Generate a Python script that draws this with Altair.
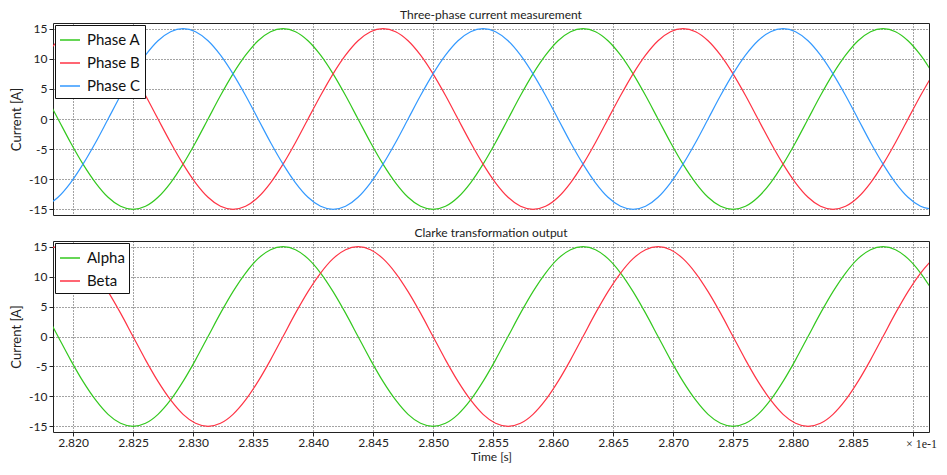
import altair as alt
import pandas as pd

# ---- data (time axis shown in units of 1e-1 s) ----
time_s = [2.81771, 2.81875, 2.81979, 2.82083, 2.82188, 2.82292, 2.82396, 2.82500,
          2.82604, 2.82708, 2.82813, 2.82917, 2.83021, 2.83125, 2.83229, 2.83333,
          2.83438, 2.83542, 2.83646, 2.83750, 2.83854, 2.83958, 2.84063, 2.84167,
          2.84271, 2.84375, 2.84479, 2.84583, 2.84688, 2.84792, 2.84896, 2.85000,
          2.85104, 2.85208, 2.85313, 2.85417, 2.85521, 2.85625, 2.85729, 2.85833,
          2.85938, 2.86042, 2.86146, 2.86250, 2.86354, 2.86458, 2.86563, 2.86667,
          2.86771, 2.86875, 2.86979, 2.87083, 2.87188, 2.87292, 2.87396, 2.87500,
          2.87604, 2.87708, 2.87813, 2.87917, 2.88021, 2.88125, 2.88229, 2.88333,
          2.88438, 2.88542, 2.88646, 2.88750, 2.88854, 2.88958, 2.89063, 2.89167]

phase_a = [3.9, 0.0, -3.9, -7.5, -10.6, -13.0, -14.5,
           -15.0, -14.5, -13.0, -10.6, -7.5, -3.9, 0.0, 3.9, 7.5, 10.6, 13.0, 14.5,
           15.0, 14.5, 13.0, 10.6, 7.5, 3.9, 0.0, -3.9, -7.5, -10.6, -13.0, -14.5,
           -15.0, -14.5, -13.0, -10.6, -7.5, -3.9, 0.0, 3.9, 7.5, 10.6, 13.0, 14.5,
           15.0, 14.5, 13.0, 10.6, 7.5, 3.9, 0.0, -3.9, -7.5, -10.6, -13.0, -14.5,
           -15.0, -14.5, -13.0, -10.6, -7.5, -3.9, 0.0, 3.9, 7.5, 10.6, 13.0, 14.5,
           15.0, 14.5, 13.0, 10.6, 7.5]

phase_b = [10.6, 13.0, 14.5, 15.0, 14.5, 13.0, 10.6, 7.5, 3.9, 0.0, -3.9, -7.5, -10.6, -13.0, -14.5,
           -15.0, -14.5, -13.0, -10.6, -7.5, -3.9, 0.0, 3.9, 7.5, 10.6, 13.0, 14.5,
           15.0, 14.5, 13.0, 10.6, 7.5, 3.9, 0.0, -3.9, -7.5, -10.6, -13.0, -14.5,
           -15.0, -14.5, -13.0, -10.6, -7.5, -3.9, 0.0, 3.9, 7.5, 10.6, 13.0, 14.5,
           15.0, 14.5, 13.0, 10.6, 7.5, 3.9, 0.0, -3.9, -7.5, -10.6, -13.0, -14.5,
           -15.0, -14.5, -13.0, -10.6, -7.5, -3.9, 0.0, 3.9, 7.5]

phase_c = [-14.5, -13.0, -10.6, -7.5, -3.9, 0.0, 3.9, 7.5, 10.6, 13.0, 14.5,
           15.0, 14.5, 13.0, 10.6, 7.5, 3.9, 0.0, -3.9, -7.5, -10.6, -13.0, -14.5,
           -15.0, -14.5, -13.0, -10.6, -7.5, -3.9, 0.0, 3.9, 7.5, 10.6, 13.0, 14.5,
           15.0, 14.5, 13.0, 10.6, 7.5, 3.9, 0.0, -3.9, -7.5, -10.6, -13.0, -14.5,
           -15.0, -14.5, -13.0, -10.6, -7.5, -3.9, 0.0, 3.9, 7.5, 10.6, 13.0, 14.5,
           15.0, 14.5, 13.0, 10.6, 7.5, 3.9, 0.0, -3.9, -7.5, -10.6, -13.0, -14.5,
           -15.0]

alpha = [3.9, 0.0, -3.9, -7.5, -10.6, -13.0, -14.5,
         -15.0, -14.5, -13.0, -10.6, -7.5, -3.9, 0.0, 3.9, 7.5, 10.6, 13.0, 14.5,
         15.0, 14.5, 13.0, 10.6, 7.5, 3.9, 0.0, -3.9, -7.5, -10.6, -13.0, -14.5,
         -15.0, -14.5, -13.0, -10.6, -7.5, -3.9, 0.0, 3.9, 7.5, 10.6, 13.0, 14.5,
         15.0, 14.5, 13.0, 10.6, 7.5, 3.9, 0.0, -3.9, -7.5, -10.6, -13.0, -14.5,
         -15.0, -14.5, -13.0, -10.6, -7.5, -3.9, 0.0, 3.9, 7.5, 10.6, 13.0, 14.5,
         15.0, 14.5, 13.0, 10.6, 7.5]

beta = [14.5, 15.0, 14.5, 13.0, 10.6, 7.5, 3.9, 0.0, -3.9, -7.5, -10.6, -13.0, -14.5,
        -15.0, -14.5, -13.0, -10.6, -7.5, -3.9, 0.0, 3.9, 7.5, 10.6, 13.0, 14.5,
        15.0, 14.5, 13.0, 10.6, 7.5, 3.9, 0.0, -3.9, -7.5, -10.6, -13.0, -14.5,
        -15.0, -14.5, -13.0, -10.6, -7.5, -3.9, 0.0, 3.9, 7.5, 10.6, 13.0, 14.5,
        15.0, 14.5, 13.0, 10.6, 7.5, 3.9, 0.0, -3.9, -7.5, -10.6, -13.0, -14.5,
        -15.0, -14.5, -13.0, -10.6, -7.5, -3.9, 0.0, 3.9, 7.5, 10.6, 13.0]

top_names = ["Phase A", "Phase B", "Phase C"]
bottom_names = ["Alpha", "Beta"]
x_ticks = [2.820, 2.825, 2.830, 2.835, 2.840, 2.845, 2.850, 2.855,
           2.860, 2.865, 2.870, 2.875, 2.880, 2.885, 2.890]
y_ticks = [-15, -10, -5, 0, 5, 10, 15]
x_domain = [2.81833, 2.89133]
y_domain = [-15.95, 15.95]
top_title = "Three-phase current measurement"
bottom_title = "Clarke transformation output"
x_title = "Time [s]"
y_title = "Current [A]"
exponent_label = "× 1e-1"

GREEN, RED, BLUE = "#33c81e", "#ff3344", "#3399ff"

# ---- tables ----
n = len(time_s)
top_df = pd.DataFrame({
    "t": time_s * 3,
    "v": phase_a + phase_b + phase_c,
    "s": [top_names[0]] * n + [top_names[1]] * n + [top_names[2]] * n,
})
bot_df = pd.DataFrame({
    "t": time_s * 2,
    "v": alpha + beta,
    "s": [bottom_names[0]] * n + [bottom_names[1]] * n,
})

W = 876
H_TOP, H_BOT = 192, 191

x_scale = alt.Scale(domain=x_domain, nice=False, zero=False)
y_scale = alt.Scale(domain=y_domain, nice=False, zero=False)


def y_axis():
    return alt.Axis(values=y_ticks, title=y_title, labelExpr="datum.value + ''",
                    tickSize=4, labelPadding=2, titlePadding=5, grid=True)


def legend():
    return alt.Legend(title=None, orient="top-left", offset=2)


def ttl(text):
    return alt.TitleParams(text, fontSize=12, font="Lato", fontWeight="normal",
                           anchor="middle", offset=1, color="#222")


top = alt.Chart(top_df).mark_line(strokeWidth=1.2, interpolate="monotone", clip=True).encode(
    x=alt.X("t:Q", scale=x_scale,
            axis=alt.Axis(values=x_ticks, labels=False, ticks=False, title=None, grid=True)),
    y=alt.Y("v:Q", scale=y_scale, axis=y_axis()),
    color=alt.Color("s:N", scale=alt.Scale(domain=top_names, range=[GREEN, RED, BLUE]),
                    legend=legend(), sort=top_names),
).properties(width=W, height=H_TOP, title=ttl(top_title))

bot_lines = alt.Chart(bot_df).mark_line(strokeWidth=1.2, interpolate="monotone", clip=True).encode(
    x=alt.X("t:Q", scale=x_scale,
            axis=alt.Axis(values=x_ticks, title=x_title, tickSize=4, labelPadding=1,
                          titlePadding=3, titleFontSize=12, labelFlush=False,
                          labelOverlap=False, grid=True,
                          labelExpr="datum.value > 2.8895 ? '' : format(datum.value, '.3f')")),
    y=alt.Y("v:Q", scale=y_scale, axis=y_axis()),
    color=alt.Color("s:N", scale=alt.Scale(domain=bottom_names, range=[GREEN, RED]),
                    legend=legend(), sort=bottom_names),
)

exp_text = alt.Chart(pd.DataFrame({"txt": [exponent_label]})).mark_text(
    align="left", baseline="middle", font="Liberation Serif", fontSize=12, color="#222"
).encode(x=alt.value(853), y=alt.value(H_BOT + 12), text="txt:N")

bottom = alt.layer(bot_lines, exp_text).properties(width=W, height=H_BOT, title=ttl(bottom_title))

chart = alt.vconcat(top, bottom, spacing=10).resolve_scale(
    color="independent"
).resolve_legend(
    color="independent"
).properties(
    padding={"left": 2, "top": 0, "right": 0, "bottom": 0}
).configure_view(
    stroke="#222", strokeWidth=1
).configure_axis(
    labelFont="Lato", labelFontSize=12, labelColor="#222",
    titleFont="Lato", titleFontSize=13, titleFontWeight="normal", titleColor="#222",
    gridColor="#333", gridDash=[1, 2], gridOpacity=0.9, gridWidth=1,
    tickColor="#222", domain=False
).configure_legend(
    fillColor="white", strokeColor="#111", padding=4, cornerRadius=0,
    labelFont="Lato", labelFontSize=15, labelColor="#111", labelOffset=6,
    symbolType="stroke", symbolSize=400, symbolStrokeWidth=1.5, rowPadding=4
)

chart.save("out.html", embed_options={"renderer": "svg", "actions": False})
